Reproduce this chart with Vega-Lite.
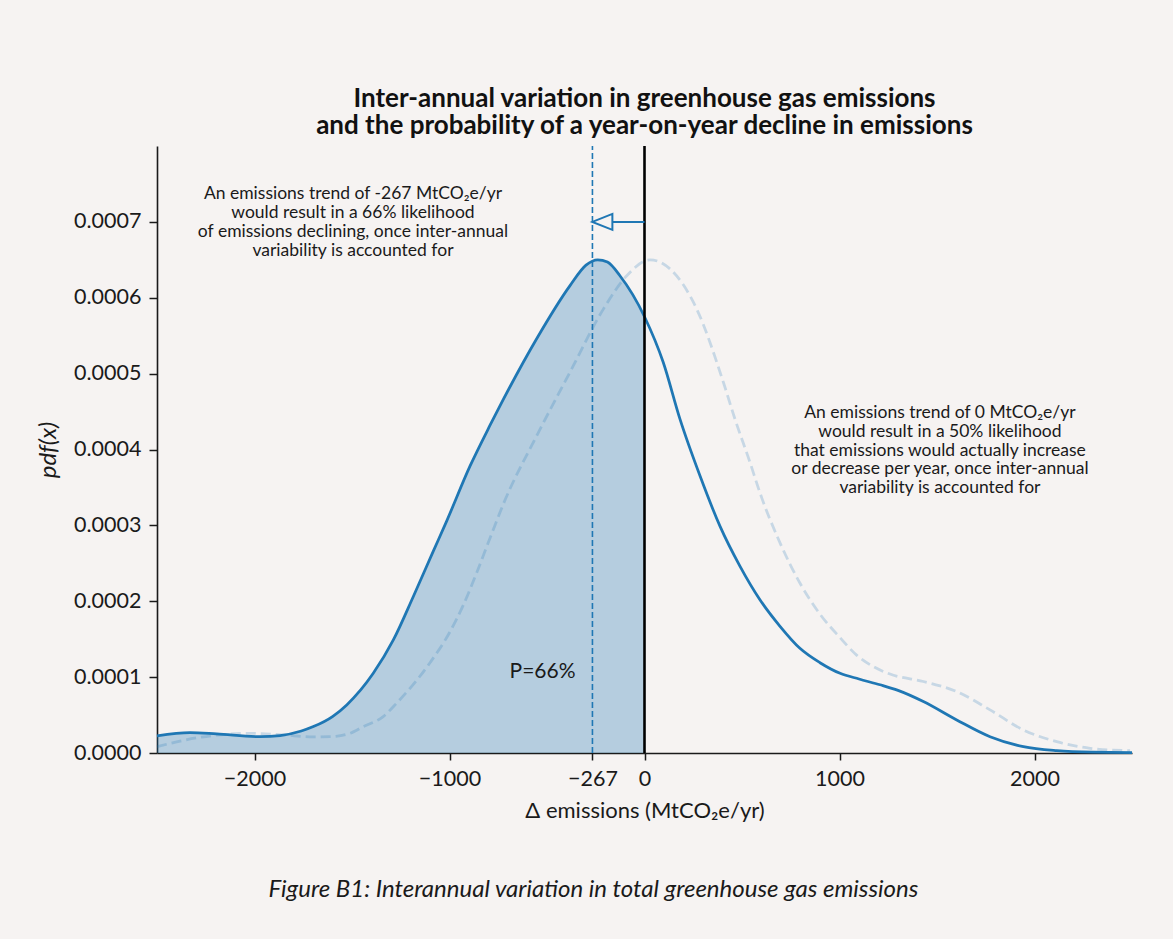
{
  "$schema": "https://vega.github.io/schema/vega-lite/v6.json",
  "width": 975,
  "height": 607,
  "autosize": {"type": "none"},
  "padding": {"left": 157, "top": 146, "right": 41, "bottom": 186},
  "background": "#f6f3f2",
  "title": {
    "text": ["Inter-annual variation in greenhouse gas emissions", "and the probability of a year-on-year decline in emissions"],
    "font": "Lato",
    "fontSize": 26,
    "fontWeight": "bold",
    "color": "#111111",
    "anchor": "middle",
    "baseline": "bottom",
    "lineHeight": 27,
    "offset": -20
  },
  "config": {
    "view": {"stroke": null},
    "font": "Lato",
    "axis": {
      "grid": false,
      "domainColor": "#1a1a1a",
      "domainWidth": 1.6,
      "tickColor": "#1a1a1a",
      "tickWidth": 1.5,
      "labelFont": "Lato",
      "labelFontSize": 21.5,
      "labelColor": "#1a1a1a",
      "titleFont": "Lato",
      "titleFontWeight": "normal",
      "titleColor": "#1a1a1a"
    }
  },
  "datasets": {
    "solid": [
      {"x": -2500, "y": 0.0000225},
      {"x": -2331, "y": 0.0000268},
      {"x": -2194, "y": 0.0000251},
      {"x": -1972, "y": 0.0000215},
      {"x": -1869, "y": 0.000023},
      {"x": -1760, "y": 0.000029},
      {"x": -1698, "y": 0.0000348},
      {"x": -1600, "y": 0.000048},
      {"x": -1527, "y": 0.0000634},
      {"x": -1391, "y": 0.000105},
      {"x": -1288, "y": 0.000149},
      {"x": -1186, "y": 0.000206},
      {"x": -1083, "y": 0.000266},
      {"x": -1014, "y": 0.000306},
      {"x": -895, "y": 0.000378},
      {"x": -792, "y": 0.000432},
      {"x": -724, "y": 0.000466},
      {"x": -553, "y": 0.000546},
      {"x": -382, "y": 0.000616},
      {"x": -300, "y": 0.000643},
      {"x": -240, "y": 0.00065},
      {"x": -190, "y": 0.000647},
      {"x": -126, "y": 0.000629},
      {"x": 0, "y": 0.000575},
      {"x": 96, "y": 0.000515},
      {"x": 182, "y": 0.00044},
      {"x": 285, "y": 0.000365},
      {"x": 387, "y": 0.000299},
      {"x": 490, "y": 0.000246},
      {"x": 592, "y": 0.000202},
      {"x": 695, "y": 0.000167},
      {"x": 797, "y": 0.000138},
      {"x": 900, "y": 0.000119},
      {"x": 1003, "y": 0.000105},
      {"x": 1100, "y": 0.0000975},
      {"x": 1208, "y": 0.0000899},
      {"x": 1300, "y": 0.0000825},
      {"x": 1430, "y": 0.0000678},
      {"x": 1601, "y": 0.0000436},
      {"x": 1772, "y": 0.0000215},
      {"x": 1943, "y": 0.0000083},
      {"x": 2114, "y": 0.000003},
      {"x": 2300, "y": 0.000001},
      {"x": 2500, "y": 0.0000005}
    ],
    "dashed": [
      {"x": -2500, "y": 0.0000083},
      {"x": -2279, "y": 0.0000207},
      {"x": -2023, "y": 0.000026},
      {"x": -1852, "y": 0.0000238},
      {"x": -1700, "y": 0.0000212},
      {"x": -1613, "y": 0.0000215},
      {"x": -1510, "y": 0.000026},
      {"x": -1442, "y": 0.0000348},
      {"x": -1340, "y": 0.000048},
      {"x": -1271, "y": 0.0000657},
      {"x": -1100, "y": 0.000119},
      {"x": -997, "y": 0.00016},
      {"x": -929, "y": 0.000195},
      {"x": -860, "y": 0.000238},
      {"x": -785, "y": 0.000288},
      {"x": -724, "y": 0.000328},
      {"x": -553, "y": 0.000418},
      {"x": -382, "y": 0.000502},
      {"x": -211, "y": 0.000585},
      {"x": -91, "y": 0.000629},
      {"x": 28, "y": 0.00065},
      {"x": 131, "y": 0.000638},
      {"x": 268, "y": 0.000585},
      {"x": 404, "y": 0.000489},
      {"x": 464, "y": 0.00044},
      {"x": 541, "y": 0.000383},
      {"x": 592, "y": 0.000343},
      {"x": 695, "y": 0.000277},
      {"x": 797, "y": 0.000224},
      {"x": 900, "y": 0.000183},
      {"x": 1003, "y": 0.000152},
      {"x": 1088, "y": 0.000129},
      {"x": 1173, "y": 0.000114},
      {"x": 1259, "y": 0.000104},
      {"x": 1430, "y": 0.0000942},
      {"x": 1601, "y": 0.000081},
      {"x": 1772, "y": 0.0000568},
      {"x": 1943, "y": 0.0000304},
      {"x": 2114, "y": 0.0000149},
      {"x": 2285, "y": 0.0000062},
      {"x": 2490, "y": 0.000003}
    ],
    "zeroLine": [{"x": 0, "y": 0, "y2": 0.0008}],
    "trendLine": [{"x": -267, "y": 0, "y2": 0.0008}],
    "arrow": [{"x": 0, "x2": -216, "y": 0.0007}],
    "arrowHead": [{"x": -216, "y": 0.0007}],
    "notes": [
      {"x": -1495, "y": 0.0007295, "text": ["An emissions trend of -267 MtCO₂e/yr", "would result in a 66% likelihood", "of emissions declining, once inter-annual", "variability is accounted for"]},
      {"x": 1515, "y": 0.000441, "text": ["An emissions trend of 0 MtCO₂e/yr", "would result in a 50% likelihood", "that emissions would actually increase", "or decrease per year, once inter-annual", "variability is accounted for"]}
    ],
    "prob": [{"x": -523, "y": 0.0000991, "text": "P=66%"}],
    "caption": [{"x": -262, "y": -0.00019, "text": "Figure B1: Interannual variation in total greenhouse gas emissions"}]
  },
  "layer": [
    {
      "data": {"name": "solid"},
      "transform": [{"filter": "datum.x <= 0"}],
      "mark": {"type": "area", "color": "#1f77b4", "fillOpacity": 0.3, "interpolate": "monotone"},
      "encoding": {
        "x": {
          "field": "x", "type": "quantitative",
          "scale": {"domain": [-2500, 2500], "nice": false, "zero": false},
          "axis": {
            "title": "Δ emissions (MtCO₂e/yr)",
            "titleFontSize": 22,
            "values": [-2000, -1000, -267, 0, 1000, 2000],
            "format": "d",
            "tickSize": 7,
            "labelPadding": 8,
            "titlePadding": 11
          }
        },
        "y": {
          "field": "y", "type": "quantitative",
          "scale": {"domain": [0, 0.0008], "nice": false},
          "axis": {
            "title": "pdf(x)",
            "titleFontSize": 24,
            "titleFontStyle": "italic",
            "values": [0, 0.0001, 0.0002, 0.0003, 0.0004, 0.0005, 0.0006, 0.0007],
            "format": ".4f",
            "tickSize": 8,
            "labelPadding": 8,
            "titlePadding": 13
          }
        }
      }
    },
    {
      "data": {"name": "dashed"},
      "mark": {"type": "line", "color": "#1f77b4", "strokeOpacity": 0.22, "strokeWidth": 2.75, "strokeDash": [10, 5], "interpolate": "monotone"},
      "encoding": {
        "x": {"field": "x", "type": "quantitative"},
        "y": {"field": "y", "type": "quantitative"}
      }
    },
    {
      "data": {"name": "solid"},
      "mark": {"type": "line", "color": "#1f77b4", "strokeWidth": 2.75, "interpolate": "monotone"},
      "encoding": {
        "x": {"field": "x", "type": "quantitative"},
        "y": {"field": "y", "type": "quantitative"}
      }
    },
    {
      "data": {"name": "trendLine"},
      "mark": {"type": "rule", "color": "#1f77b4", "strokeWidth": 1.6, "strokeDash": [6, 3]},
      "encoding": {
        "x": {"field": "x", "type": "quantitative"},
        "y": {"field": "y", "type": "quantitative"},
        "y2": {"field": "y2"}
      }
    },
    {
      "data": {"name": "zeroLine"},
      "mark": {"type": "rule", "color": "#000000", "strokeWidth": 2.6},
      "encoding": {
        "x": {"field": "x", "type": "quantitative"},
        "y": {"field": "y", "type": "quantitative"},
        "y2": {"field": "y2"}
      }
    },
    {
      "data": {"name": "arrow"},
      "mark": {"type": "rule", "color": "#1f77b4", "strokeWidth": 2},
      "encoding": {
        "x": {"field": "x", "type": "quantitative"},
        "x2": {"field": "x2"},
        "y": {"field": "y", "type": "quantitative"}
      }
    },
    {
      "data": {"name": "arrowHead"},
      "mark": {"type": "point", "shape": "M -1 0 L 1 -0.8 L 1 0.8 Z", "size": 400, "filled": true, "fill": "#f6f3f2", "stroke": "#1f77b4", "strokeWidth": 2, "opacity": 1},
      "encoding": {
        "x": {"field": "x", "type": "quantitative"},
        "y": {"field": "y", "type": "quantitative"}
      }
    },
    {
      "data": {"name": "notes"},
      "mark": {"type": "text", "font": "Lato", "fontSize": 17.5, "lineHeight": 18.7, "align": "center", "baseline": "alphabetic", "color": "#1a1a1a"},
      "encoding": {
        "x": {"field": "x", "type": "quantitative"},
        "y": {"field": "y", "type": "quantitative"},
        "text": {"field": "text"}
      }
    },
    {
      "data": {"name": "prob"},
      "mark": {"type": "text", "font": "Lato", "fontSize": 21, "align": "center", "baseline": "alphabetic", "color": "#1a1a1a"},
      "encoding": {
        "x": {"field": "x", "type": "quantitative"},
        "y": {"field": "y", "type": "quantitative"},
        "text": {"field": "text"}
      }
    },
    {
      "data": {"name": "caption"},
      "mark": {"type": "text", "font": "Lato", "fontSize": 24, "fontStyle": "italic", "align": "center", "baseline": "alphabetic", "color": "#1a1a1a"},
      "encoding": {
        "x": {"field": "x", "type": "quantitative"},
        "y": {"field": "y", "type": "quantitative"},
        "text": {"field": "text"}
      }
    }
  ]
}
